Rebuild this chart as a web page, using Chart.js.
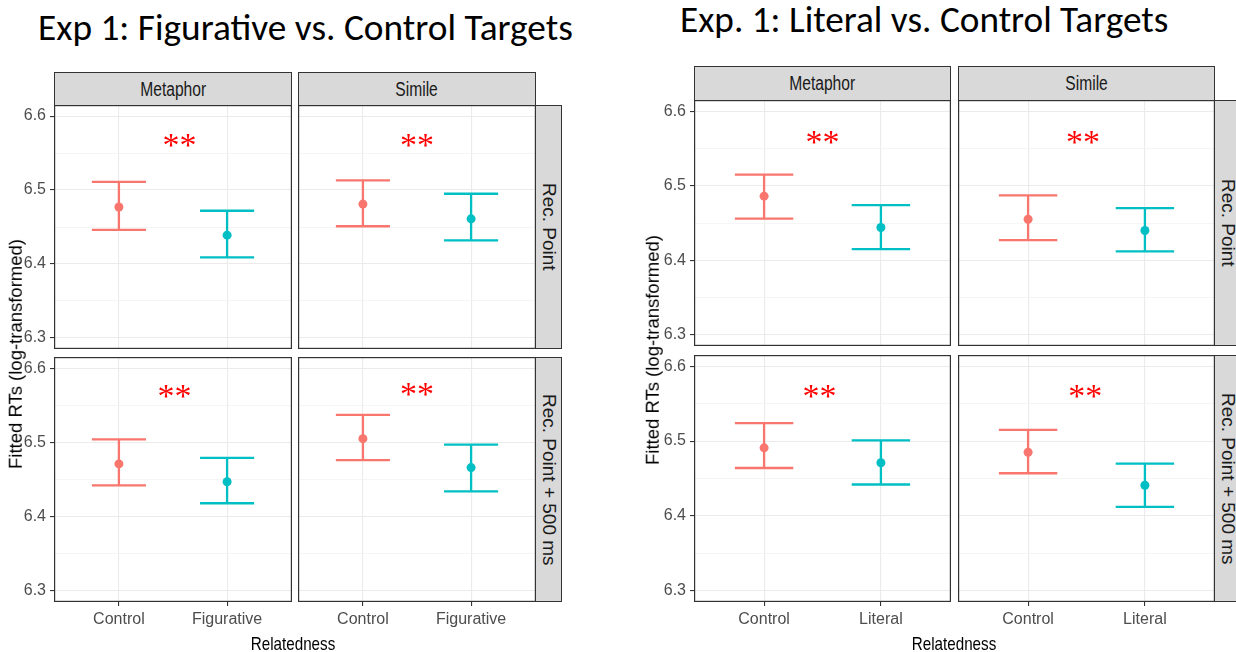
<!DOCTYPE html>
<html>
<head>
<meta charset="utf-8">
<script src="https://cdn.jsdelivr.net/npm/chart.js@4.4.1/dist/chart.umd.min.js"></script>
<style>
  html, body { margin: 0; padding: 0; background: #fff; }
  body { width: 1236px; height: 652px; position: relative; overflow: hidden; }
  canvas { position: absolute; }
  .strip { position: absolute; box-sizing: border-box; background: #d9d9d9; border: 1px solid #333;
           color: #1a1a1a; display: flex; align-items: center; justify-content: center; white-space: nowrap; }
  .txt { position: absolute; white-space: nowrap; line-height: 1; }
</style>
</head>
<body>
<script>
// ---- data ----
const figCategories = ['Control', 'Figurative'];
const litCategories = ['Control', 'Literal'];
const facetCols = ['Metaphor', 'Simile'];
const facetRows = ['Rec. Point', 'Rec. Point + 500 ms'];
const yMajorTicks = [6.3, 6.4, 6.5, 6.6];
const yMinorTicks = [6.35, 6.45, 6.55];

// panel order: Metaphor/Rec. Point, Simile/Rec. Point, Metaphor/+500, Simile/+500
const figControlMean = [6.477, 6.481, 6.471, 6.505];
const figControlLow  = [6.446, 6.451, 6.442, 6.476];
const figControlHigh = [6.511, 6.513, 6.504, 6.537];
const figTargetMean  = [6.439, 6.461, 6.447, 6.466];
const figTargetLow   = [6.409, 6.432, 6.418, 6.434];
const figTargetHigh  = [6.472, 6.495, 6.479, 6.497];
const figSigX = [1.56, 1.5, 1.515, 1.5];
const figSigY = [6.567, 6.567, 6.568, 6.571];

const litControlMean = [6.486, 6.455, 6.491, 6.485];
const litControlLow  = [6.456, 6.427, 6.464, 6.457];
const litControlHigh = [6.515, 6.487, 6.524, 6.515];
const litTargetMean  = [6.444, 6.440, 6.471, 6.441];
const litTargetLow   = [6.415, 6.412, 6.442, 6.412];
const litTargetHigh  = [6.474, 6.470, 6.501, 6.470];
const litSigX = [1.5, 1.47, 1.475, 1.49];
const litSigY = [6.5645, 6.5645, 6.566, 6.566];

const colors = ['#F8766D', '#00BFC4'];

// ---- layout ----
const figures = [
  { cats: figCategories, title: 'Exp 1: Figurative vs. Control Targets', titleLeft: 38, titleWidth: 535, titleY: 27,
    colX: [[54, 292], [298, 536]], rowY: [[105, 349], [357, 602]], stripTop: 72,
    yTitleX: 16, yTitleY: 354, xTitleX: 293,
    cm: figControlMean, cl: figControlLow, ch: figControlHigh,
    tm: figTargetMean, tl: figTargetLow, th: figTargetHigh, sx: figSigX, sy: figSigY },
  { cats: litCategories, title: 'Exp. 1: Literal vs. Control Targets', titleLeft: 680, titleWidth: 488, titleY: 19,
    colX: [[694, 951], [958, 1215]], rowY: [[100, 346], [355, 602]], stripTop: 66,
    yTitleX: 653, yTitleY: 350, xTitleX: 954,
    cm: litControlMean, cl: litControlLow, ch: litControlHigh,
    tm: litTargetMean, tl: litTargetLow, th: litTargetHigh, sx: litSigX, sy: litSigY }
];

function fontAvailable(name) {
  const c = document.createElement('canvas').getContext('2d');
  c.font = '40px monospace';
  const a = c.measureText('Metaphor 6.5').width;
  c.font = '40px "' + name + '", monospace';
  return Math.abs(c.measureText('Metaphor 6.5').width - a) > 0.5;
}
const narrowOK = fontAvailable('Liberation Sans Narrow');
const tickFont = narrowOK ? { family: '"Liberation Sans Narrow"', size: 20 } : { family: '"Liberation Sans", Arial', size: 16 };
const labelFamily = narrowOK ? '"Liberation Sans Narrow"' : '"Liberation Sans", Arial';
const labelScale = narrowOK ? 1 : 0.8;

function addText(txt, cx, cy, size, color, rot, family) {
  const d = document.createElement('div');
  d.className = 'txt';
  d.textContent = txt;
  d.style.left = cx + 'px';
  d.style.top = cy + 'px';
  d.style.fontFamily = family || labelFamily;
  d.style.fontSize = size + 'px';
  d.style.color = color;
  const sx = rot ? 1 : labelScale;
  d.style.transform = 'translate(-50%,-50%) rotate(' + (rot || 0) + 'deg) scaleX(' + sx + ')';
  document.body.appendChild(d);
  return d;
}

const isMajor = v => Math.abs(v * 10 - Math.round(v * 10)) < 1e-6;

const sigPlugin = {
  id: 'sig',
  afterDatasetsDraw(chart, args, opts) {
    const { ctx, scales: { x, y } } = chart;
    const px = x.getPixelForValue(opts.x), py = y.getPixelForValue(opts.y);
    ctx.save();
    ctx.font = '34px "Liberation Serif", "Times New Roman", serif';
    ctx.fillStyle = '#FF0000';
    ctx.textAlign = 'center';
    ctx.textBaseline = 'alphabetic';
    const m = ctx.measureText('**');
    const off = (m.actualBoundingBoxAscent - m.actualBoundingBoxDescent) / 2;
    ctx.fillText('**', px, py + off);
    ctx.restore();
  }
};

const borderPlugin = {
  id: 'panelBorder',
  afterDraw(chart) {
    const { ctx, chartArea: a } = chart;
    ctx.save();
    ctx.strokeStyle = '#333333';
    ctx.lineWidth = 1.2;
    ctx.strokeRect(a.left + 0.6, a.top + 0.6, a.right - a.left - 1.2, a.bottom - a.top - 1.2);
    ctx.restore();
  }
};

function errorBar(x, lo, hi) {
  const hw = 0.25;
  return [
    { x: x - hw, y: hi }, { x: x + hw, y: hi }, { x: x, y: null },
    { x: x, y: hi }, { x: x, y: lo }, { x: x, y: null },
    { x: x - hw, y: lo }, { x: x + hw, y: lo }
  ];
}

function makePanel(fig, r, c) {
  const i = r * 2 + c;
  const [x0, x1] = fig.colX[c], [y0, y1] = fig.rowY[r];
  const left = c === 0 ? 54 : 0;
  const bottom = r === 1 ? 50 : 0;
  const cv = document.createElement('canvas');
  const w = x1 - x0 + left, h = y1 - y0 + bottom;
  cv.width = w; cv.height = h;
  cv.style.left = (x0 - left) + 'px';
  cv.style.top = y0 + 'px';
  cv.style.width = w + 'px';
  cv.style.height = h + 'px';
  document.body.appendChild(cv);

  const means = [fig.cm[i], fig.tm[i]];
  const lows = [fig.cl[i], fig.tl[i]];
  const highs = [fig.ch[i], fig.th[i]];

  const datasets = [];
  means.forEach((m, k) => {
    datasets.push({ data: [{ x: k + 1, y: m }], pointRadius: 4.5, pointBackgroundColor: colors[k], pointBorderWidth: 0, showLine: false });
  });
  means.forEach((m, k) => {
    datasets.push({ data: errorBar(k + 1, lows[k], highs[k]), showLine: true, spanGaps: false, pointRadius: 0,
                    borderColor: colors[k], borderWidth: 2.3 });
  });

  new Chart(cv, {
    type: 'scatter',
    data: { datasets },
    options: {
      responsive: false, animation: false, events: [],
      layout: { padding: 0, autoPadding: false },
      plugins: { legend: { display: false }, tooltip: { enabled: false }, sig: { x: fig.sx[i], y: fig.sy[i] } },
      scales: {
        x: {
          type: 'linear', min: 0.4, max: 2.6,
          afterBuildTicks: s => { s.ticks = fig.cats.map((_, k) => ({ value: k + 1 })); },
          afterFit: s => { s.height = bottom; s.paddingLeft = 0; s.paddingRight = 0; },
          border: { display: false },
          grid: { color: '#EBEBEB', lineWidth: 1.1, drawTicks: r === 1, tickLength: 4, tickColor: '#333333', tickWidth: 1.1 },
          ticks: { display: r === 1, autoSkip: false, maxRotation: 0, padding: 4, color: '#4D4D4D', font: tickFont,
                   callback: v => fig.cats[Math.round(v) - 1] }
        },
        y: {
          type: 'linear', min: 6.285, max: 6.615,
          afterBuildTicks: s => { s.ticks = yMajorTicks.concat(yMinorTicks).sort().map(v => ({ value: v })); },
          afterFit: s => { s.width = left; s.paddingTop = 0; s.paddingBottom = 0; },
          border: { display: false },
          grid: {
            color: ctx => isMajor(ctx.tick.value) ? '#EBEBEB' : '#F3F3F3',
            lineWidth: ctx => isMajor(ctx.tick.value) ? 1.1 : 0.8,
            drawTicks: c === 0, tickLength: 4, tickWidth: 1.1,
            tickColor: ctx => isMajor(ctx.tick.value) ? '#333333' : 'rgba(0,0,0,0)'
          },
          ticks: { display: c === 0, padding: 4, color: '#4D4D4D', font: tickFont,
                   callback: v => isMajor(v) ? v.toFixed(1) : '' }
        }
      }
    },
    plugins: [sigPlugin, borderPlugin]
  });
}

figures.forEach(fig => {
  // title, fitted to the reference width
  const t = document.createElement('div');
  t.className = 'txt';
  t.textContent = fig.title;
  t.style.fontFamily = 'Carlito, Lato, "Open Sans", sans-serif';
  t.style.fontSize = '30px';
  t.style.color = '#000';
  document.body.appendChild(t);
  const fs = 30 * fig.titleWidth / t.offsetWidth;
  t.style.fontSize = fs.toFixed(2) + 'px';
  t.style.left = fig.titleLeft + 'px';
  t.style.top = (fig.titleY - t.offsetHeight / 2) + 'px';

  // column strips
  fig.colX.forEach(([a, b], c) => {
    const s = document.createElement('div');
    s.className = 'strip';
    s.style.left = a + 'px'; s.style.top = fig.stripTop + 'px';
    s.style.width = (b - a) + 'px'; s.style.height = (fig.rowY[0][0] - fig.stripTop + 1) + 'px';
    const sp = document.createElement('span');
    sp.textContent = facetCols[c];
    sp.style.fontFamily = labelFamily; sp.style.fontSize = '19.5px';
    sp.style.transform = 'scaleX(' + labelScale + ')';
    s.appendChild(sp);
    document.body.appendChild(s);
  });
  // row strips
  const sx = fig.colX[1][1];
  fig.rowY.forEach(([a, b], r) => {
    const s = document.createElement('div');
    s.className = 'strip';
    s.style.left = (sx - 1) + 'px'; s.style.top = a + 'px';
    s.style.width = '27px'; s.style.height = (b - a) + 'px';
    const sp = document.createElement('span');
    sp.textContent = facetRows[r];
    sp.style.fontFamily = '"Liberation Sans", Arial';
    sp.style.fontSize = '19px';
    sp.style.writingMode = 'vertical-rl';
    s.appendChild(sp);
    document.body.appendChild(s);
  });

  for (let r = 0; r < 2; r++) for (let c = 0; c < 2; c++) makePanel(fig, r, c);

  addText('Fitted RTs (log-transformed)', fig.yTitleX, fig.yTitleY, 18.5, '#000', -90, '"Liberation Sans", Arial');
  addText('Relatedness', fig.xTitleX, 643, 19, '#000', 0);
});
</script>
</body>
</html>
